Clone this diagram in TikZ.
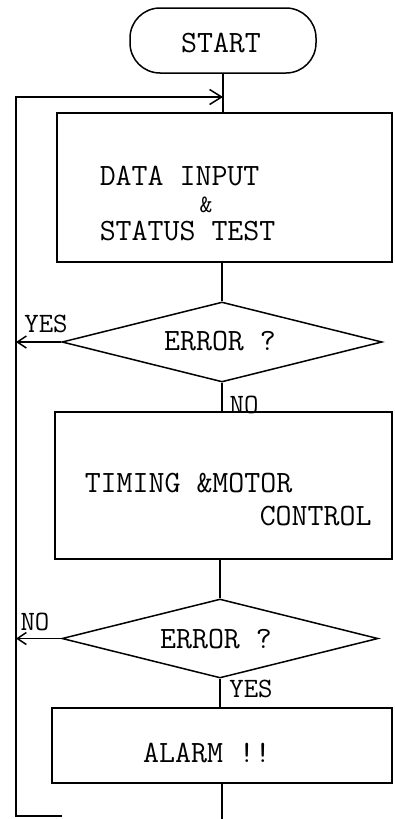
\documentclass[tikz,border=0pt]{standalone}
\usepackage{fontspec}
\usetikzlibrary{shapes.geometric,arrows.meta}
\begin{document}
\begin{tikzpicture}[x=1pt,y=-1pt, line width=1.5pt,
  box/.style={draw, rectangle, inner sep=0pt},
  dec/.style={draw, diamond, aspect=4, inner sep=0pt},
  txt/.style={inner sep=0pt, font=\fontsize{31}{36}\selectfont\ttfamily},
  amp/.style={inner sep=0pt, font=\fontsize{25}{30}\selectfont\ttfamily},
  lbl/.style={inner sep=0pt, font=\fontsize{28}{34}\selectfont\ttfamily},
  arr/.style={-{Straight Barb[length=9pt,width=12pt]}},
  arrbig/.style={-{Straight Barb[length=12pt,width=15pt]}}]
\useasboundingbox (0,0) rectangle (395,819);
% shapes
\node[box, rounded corners=30pt, minimum width=186pt, minimum height=65pt] (start) at (223,40.5) {};
\node[box, minimum width=335pt, minimum height=149pt] (box1) at (224.5,187.5) {};
\node[dec, minimum width=320pt, minimum height=80pt] (d1) at (222,342) {};
\node[box, minimum width=337pt, minimum height=147pt] (box2) at (223.5,485.5) {};
\node[dec, minimum width=316pt, minimum height=79pt] (d2) at (220,638.5) {};
\node[box, minimum width=340pt, minimum height=75pt] (alarm) at (222,745.5) {};
% texts
\node[txt, anchor=base] (tstart) at (221,52) {START};
\node[txt, anchor=base west] (tdata) at (99,185) {DATA INPUT};
\node[amp, anchor=base] (tamp) at (206,212) {\&};
\node[txt, anchor=base west] (tstatus) at (99,240) {STATUS TEST};
\node[txt, anchor=base] (terr1) at (220,350) {ERROR ?};
\node[txt, anchor=base west] (ttiming) at (84,492) {TIMING \&MOTOR};
\node[txt, anchor=base west] (tcontrol) at (259,525) {CONTROL};
\node[txt, anchor=base] (terr2) at (216,648) {ERROR ?};
\node[txt, anchor=base] (talarm) at (207,762) {ALARM !!};
\node[lbl, anchor=base] (yes1) at (46,332) {YES};
\node[lbl, anchor=base] (no1) at (244,413) {NO};
\node[lbl, anchor=base] (no2) at (35,630) {NO};
\node[lbl, anchor=base] (yes2) at (251,697) {YES};
% coordinates
\coordinate (lt) at (16,97);
\coordinate (lb) at (16,816);
\coordinate (stub) at (62,816);
\coordinate (bot) at (0,819);
% connectors
\draw (start.south) -- (start.south |- box1.north);
\draw (d1.north |- box1.south) -- (d1.north);
\draw (d1.south) -- (d1.south |- box2.north);
\draw (d2.north |- box2.south) -- (d2.north);
\draw (d2.south) -- (d2.south |- alarm.north);
\draw (alarm.south) -- (alarm.south |- bot);
\draw[arrbig] (stub) -- (lb) -- (lt) -- (lt -| start.south);
\draw[arr] (d1.west) -- (d1.west -| lt);
\draw[arr] (d2.west) -- (d2.west -| lt);
\end{tikzpicture}
\end{document}
